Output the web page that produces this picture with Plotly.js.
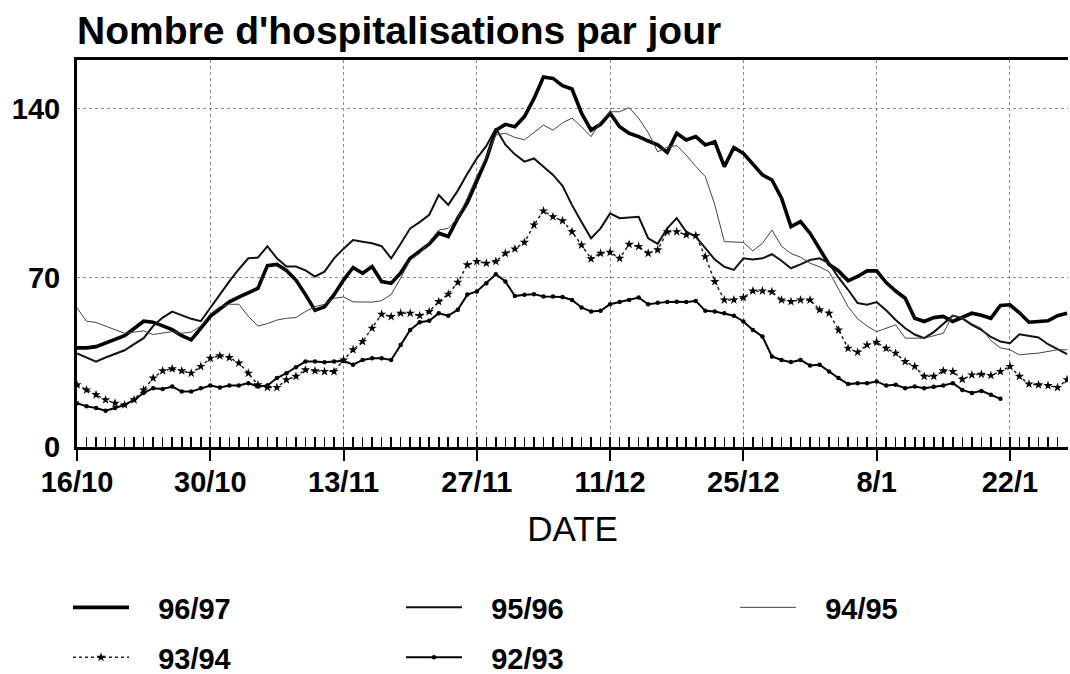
<!DOCTYPE html>
<html>
<head>
<meta charset="utf-8">
<script src="https://cdn.plot.ly/plotly-3.0.1.min.js"></script>
<style>
  html, body { margin: 0; padding: 0; background: #ffffff; }
  #chart { width: 1070px; height: 674px; }
</style>
</head>
<body>
<div id="chart"></div>
<script>
// Day offsets from 16/10 (day 0); major ticks every 14 days
const tickDays = [0, 14, 28, 42, 56, 70, 84, 98];
const tickLabels = ["16/10", "30/10", "13/11", "27/11", "11/12", "25/12", "8/1", "22/1"];
const yTicks = [0, 70, 140];

const seasonNames = ["96/97", "95/96", "94/95", "93/94", "92/93"];

// Daily hospitalisations, starting on 16/10 (day 0)
const s9697 = [41,41,41.5,43,44.5,46,49,52,51.6,50,
  48.5,46,44.3,49,54,57,60,62,63.6,65.6,
  75,75.5,73,69,63,56.5,58,63,69,74.2,
  71.8,74.6,68.4,67.7,72,78,81,84,88.4,87,
  94.6,101,110,119,131,133.4,132.4,136.6,144,153,
  152.4,149.4,148,138,131,133.4,138,132.4,129.7,128.3,
  126.5,124.9,121.8,129.7,126.9,128.3,124.9,126.2,115.9,123.8,
  121.4,117,112.5,110.4,103,91.1,93.2,88.4,82,75.5,
  72.8,68.7,70.5,72.8,72.8,68,64.5,61.5,53.2,51.9,
  53.5,54,51.9,53.5,55.3,54.5,53.2,58.5,58.8,55.5,
  51.6,51.9,52.2,54.3,55.3];

const s9596 = [38.7,37,35.3,37,38.5,40,42.5,45,50,53.5,
  56,54.5,53,52,57.3,63,68.5,73.5,78,78.3,
  83,78,74.6,74.6,73,70.5,72.5,78,82,85.6,
  84.9,84.2,83,78,84,90.4,93,96,104.2,100.1,
  106,113,119.3,124.5,131.7,125,121,118,119.3,116,
  112.5,108,100,93,86.3,90.4,96.6,94.6,95,95.2,
  86.3,84,90.4,94.6,89,87,82.2,77.5,74.5,73.2,
  78,77.5,78,79.7,77,73.9,75.5,77.3,78,76,
  70,65,59.5,58.8,59.9,56.5,52.5,49.1,46.5,45,
  47.5,51,54.3,53.2,50.5,48.4,45.5,43.6,42.9,46.6,
  46,45.3,42.5,40.5,38.4];

const s9495 = [57.5,52,51.5,50,48.5,47,47.5,48,46.5,47,
  47.7,47,47.5,50,55,58,59,59,54,50,
  51,52.5,53.2,53.5,56,58,59,61.5,62,60,
  59.9,59.9,60.5,63,69.8,77.3,80,85,89.7,90.4,
  94.6,103,112,120,129,129.7,128,127,130,133.1,
  131,134,136,132.4,128.3,134.5,138.6,138.6,140.3,135.9,
  130,122,124,124.6,120.7,116,111.8,100.1,84.9,84.9,
  84.6,81.1,84.2,89.7,83,80,78.5,76,74.5,72.5,
  65,58,53,50,47.7,49,50.5,45,45,45,
  46,47,54.5,53.5,51,49.1,44,41,40.2,38.1,
  38.5,38.8,39.5,40.2,40.2];

const s9394 = [25.7,23.6,21.6,19.5,18.1,17.4,19.5,23.6,28.5,31.5,
  32.3,31.5,30.5,33.3,36.7,37.7,37,34.7,30.5,25.7,
  24.6,24.6,27.8,29.2,31.9,31.5,31.2,31.2,36,40.2,
  43.6,49.1,54.9,53.9,55.3,55.3,54.3,56,60.1,63.2,
  68.1,75.3,76.7,76,76.7,80.1,81.9,84.6,91.8,97.6,
  95.2,93.5,89,83.5,77.8,80.1,80.5,78,83.8,82.9,
  80.1,81.5,89,89,87.7,87.4,78.7,68.4,60.8,60.8,
  61.8,64.5,64.5,64.2,60.8,60.1,60.8,60.8,56.7,55.3,
  48.4,40.8,39.2,42.2,43.3,40.8,38.8,35.3,33.3,29.2,
  29.2,31.5,31.2,28,29.8,30.1,29.6,31.2,33.3,29.2,
  26,25.7,25.4,24.6,27.8];

const s9293 = [18.1,16.8,16.1,15,16.1,17.4,19.5,22.3,24.3,24,
  25,22.9,22.9,24.3,25.4,24.6,25.4,25.4,26.4,25,
  25.4,28.5,30.5,33,35.3,35.3,35,35.3,35.6,34,
  36,36.7,36.7,36,42.2,48.4,51.6,52.2,55.3,54.3,
  56.7,63,64.3,67.7,71.4,68.4,62.4,62.9,63.2,62.2,
  62.2,62,60.8,57.7,56,56.3,59,59.9,60.8,61.8,
  59,59.6,60,60.1,59.9,60.4,56.3,56,55.3,54.3,
  51.9,48.4,45.7,37.4,36,35.1,36,33.7,34,31.2,
  28.5,26,26.4,26.4,27.1,25.4,25.7,24.3,25,24.3,
  24.9,25.4,26.4,23.6,22.3,23.2,21.6,19.9];

const dayIndex = arr => arr.map((_, i) => i);
// gap between the legend line sample and its label
const pad = name => "\u00a0\u00a0\u00a0" + name;

const FONT = "Liberation Sans, Arial, Helvetica, sans-serif";

const traces = [
  { name: pad(seasonNames[0]), x: dayIndex(s9697), y: s9697, mode: "lines",
    line: { color: "#000000", width: 3.6 }, legend: "legend" },
  { name: pad(seasonNames[1]), x: dayIndex(s9596), y: s9596, mode: "lines",
    line: { color: "#111111", width: 2 }, legend: "legend" },
  { name: pad(seasonNames[2]), x: dayIndex(s9495), y: s9495, mode: "lines",
    line: { color: "#444444", width: 1 }, legend: "legend3" },
  { name: pad(seasonNames[3]), x: dayIndex(s9394), y: s9394, mode: "lines+markers",
    line: { color: "#222222", width: 1.5, dash: "dot" },
    marker: { symbol: "star", size: 7, color: "#000000" }, legend: "legend2" },
  { name: pad(seasonNames[4]), x: dayIndex(s9293), y: s9293, mode: "lines+markers",
    line: { color: "#000000", width: 2 },
    marker: { symbol: "circle", size: 4.5, color: "#000000" }, legend: "legend2" },
  // carrier for the daily inner tick comb (no visible marks)
  { x: [0], y: [null], xaxis: "x2", yaxis: "y", mode: "lines", showlegend: false, hoverinfo: "skip" }
];

const legendCommon = {
  orientation: "h",
  xref: "container", yref: "container",
  xanchor: "left", yanchor: "top",
  entrywidthmode: "pixels", entrywidth: 262,
  itemwidth: 56,
  borderwidth: 0,
  bgcolor: "rgba(0,0,0,0)",
  font: { family: FONT, size: 29, weight: "bold", color: "#000" }
};

const layout = {
  width: 1070, height: 674,
  paper_bgcolor: "#ffffff", plot_bgcolor: "#ffffff",
  margin: { l: 77, r: 2, t: 60, b: 227, pad: 0 },
  font: { family: FONT, color: "#000" },
  title: {
    text: "Nombre d'hospitalisations par jour",
    x: 0, xref: "paper", xanchor: "left",
    y: 1 - 30 / 674, yref: "container", yanchor: "middle",
    font: { family: FONT, size: 39, weight: "bold", color: "#000" }
  },
  xaxis: {
    range: [0, 104.1],
    tickmode: "array", tickvals: tickDays, ticktext: tickLabels,
    ticks: "outside", ticklen: 11, tickwidth: 2, tickcolor: "#000",
    ticklabelstandoff: -4,
    showline: true, linewidth: 3, linecolor: "#000", mirror: true,
    showgrid: true, gridcolor: "#8a8a8a", gridwidth: 1, griddash: "dot",
    zeroline: false,
    tickfont: { family: FONT, size: 29, weight: "bold", color: "#000" },
    title: { text: "DATE", standoff: 20,
      font: { family: FONT, size: 35, color: "#000" } }
  },
  xaxis2: {
    overlaying: "x", anchor: "y", side: "bottom",
    range: [0, 104.1], tick0: 0, dtick: 1,
    ticks: "inside", ticklen: 10, tickwidth: 1.6, tickcolor: "#000",
    showticklabels: false, showgrid: false, showline: false, zeroline: false
  },
  yaxis: {
    range: [0, 160],
    tickmode: "array", tickvals: yTicks,
    ticks: "", ticklabelstandoff: 8,
    showline: true, linewidth: 3, linecolor: "#000",
    showgrid: true, gridcolor: "#8a8a8a", gridwidth: 1, griddash: "dot",
    zeroline: false,
    tickfont: { family: FONT, size: 29, weight: "bold", color: "#000" }
  },
  legend: Object.assign({}, legendCommon, { x: 68 / 1070, y: 1 - 582 / 674 }),
  legend3: Object.assign({}, legendCommon, { x: 735 / 1070, y: 1 - 582 / 674 }),
  legend2: Object.assign({}, legendCommon, { x: 68 / 1070, y: 1 - 632 / 674 }),
  showlegend: true
};

Plotly.newPlot("chart", traces, layout, { staticPlot: true, displayModeBar: false });
</script>
</body>
</html>
